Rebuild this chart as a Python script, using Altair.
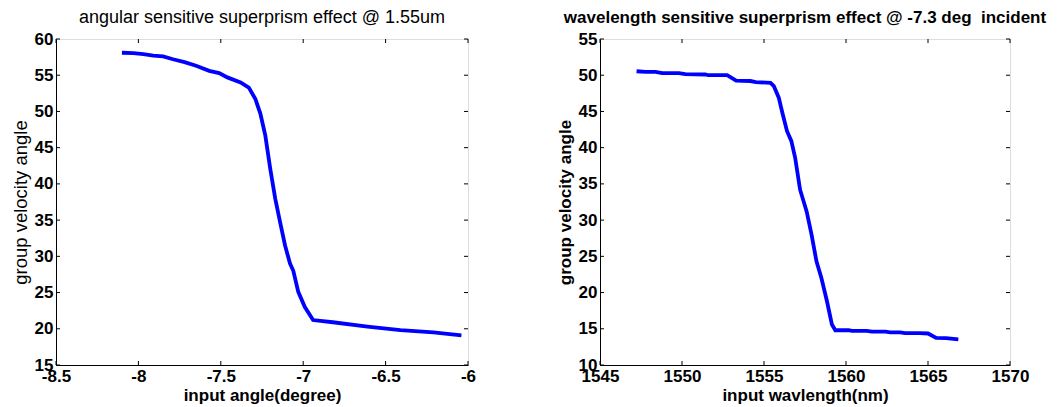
import altair as alt
import pandas as pd

# ---- data: left panel (angular sensitivity @ 1.55um)
ang_x = [-8.10, -8.03, -7.97, -7.91, -7.85, -7.79, -7.72, -7.65, -7.57, -7.51,
         -7.46, -7.38, -7.33, -7.29, -7.26, -7.23, -7.20, -7.17, -7.14, -7.11,
         -7.08, -7.06, -7.03, -6.99, -6.94, -6.82, -6.61, -6.41, -6.21, -6.04]
ang_y = [58.1, 58.05, 57.9, 57.7, 57.6, 57.2, 56.8, 56.3, 55.6, 55.3,
         54.7, 54.0, 53.3, 51.7, 49.7, 46.7, 42.1, 38.0, 34.7, 31.5,
         29.0, 28.0, 25.1, 23.0, 21.2, 20.9, 20.3, 19.8, 19.5, 19.1]

# ---- data: right panel (wavelength sensitivity @ -7.3 deg)
wl_x = [1547.23, 1547.78, 1548.39, 1548.79, 1549.81, 1550.2, 1551.43, 1551.6, 1552.75, 1553.3,
        1554.17, 1554.5, 1555.4, 1555.6, 1555.9, 1556.1, 1556.4, 1556.67, 1556.9, 1557.2,
        1557.6, 1557.9, 1558.2, 1558.5, 1558.84, 1559.14, 1559.35, 1560.16, 1560.36, 1561.27,
        1561.58, 1562.4, 1562.7, 1563.3, 1563.6, 1564.5, 1565.0, 1565.5, 1566.1, 1566.85]
wl_y = [50.55, 50.45, 50.45, 50.3, 50.3, 50.15, 50.1, 50.0, 50.0, 49.25,
        49.2, 49.05, 48.95, 48.5, 46.9, 45.0, 42.3, 40.9, 38.6, 34.2,
        31.2, 28.0, 24.3, 22.0, 18.8, 15.6, 14.8, 14.8, 14.7, 14.7,
        14.6, 14.6, 14.5, 14.5, 14.4, 14.4, 14.35, 13.75, 13.7, 13.55]

left_xticks = [-8.5, -8, -7.5, -7, -6.5, -6]
left_yticks = [15, 20, 25, 30, 35, 40, 45, 50, 55, 60]
right_xticks = [1545, 1550, 1555, 1560, 1565, 1570]
right_yticks = [10, 15, 20, 25, 30, 35, 40, 45, 50, 55]

FONT = "Liberation Sans"
TICK = 4
LABEL_EXPR = "'' + datum.value"


def panel(xs, ys, xt, yt, title, title_weight, title_size, xtitle, ytitle,
          ytitle_weight, ytitle_size, W, H):
    df = pd.DataFrame({"x": xs, "y": ys})
    xscale = alt.Scale(domain=[xt[0], xt[-1]], nice=False, zero=False)
    yscale = alt.Scale(domain=[yt[0], yt[-1]], nice=False, zero=False)
    xaxis = alt.Axis(values=xt, title=xtitle, grid=False, ticks=False,
                     labelExpr=LABEL_EXPR,
                     labelFlush=False, labelOverlap=False, labelFontWeight="bold",
                     labelFontSize=17, labelColor="black", labelPadding=3,
                     titleFontSize=17, titleFontWeight="bold", titleColor="black",
                     titlePadding=3, domainColor="black", labelFont=FONT, titleFont=FONT)
    yaxis = alt.Axis(values=yt, title=ytitle, grid=False, ticks=False,
                     labelExpr=LABEL_EXPR,
                     labelFlush=False, labelOverlap=False, labelFontWeight="bold",
                     labelFontSize=17, labelColor="black", labelPadding=3,
                     titleFontSize=ytitle_size, titleFontWeight=ytitle_weight,
                     titleColor="black", titlePadding=4, domainColor="black",
                     labelFont=FONT, titleFont=FONT)
    X = lambda f: alt.X(f, type="quantitative", scale=xscale, axis=xaxis)
    Y = lambda f: alt.Y(f, type="quantitative", scale=yscale, axis=yaxis)

    line = alt.Chart(df).mark_line(color="#0000FF", strokeWidth=3.8).encode(
        x=X("x"), y=Y("y"))

    dxt = pd.DataFrame({"x": xt})
    dyt = pd.DataFrame({"y": yt})
    xb = alt.Chart(dxt).mark_rule(color="black").encode(
        x=X("x"), y=alt.value(H), y2=alt.value(H - TICK))
    xtp = alt.Chart(dxt).mark_rule(color="black").encode(
        x=X("x"), y=alt.value(0), y2=alt.value(TICK))
    yl = alt.Chart(dyt).mark_rule(color="black").encode(
        y=Y("y"), x=alt.value(0), x2=alt.value(TICK))
    yr = alt.Chart(dyt).mark_rule(color="black").encode(
        y=Y("y"), x=alt.value(W - TICK), x2=alt.value(W))

    return alt.layer(line, xb, xtp, yl, yr).properties(
        width=W, height=H,
        title=alt.TitleParams(title, font=FONT, fontSize=title_size,
                              fontWeight=title_weight, color="black", offset=3,
                              anchor="middle"))


left = panel(ang_x, ang_y, left_xticks, left_yticks,
             "angular sensitive superprism effect @ 1.55um", "normal", 18,
             "input angle(degree)", "group velocity angle", "normal", 18.5, 412, 326)
right = panel(wl_x, wl_y, right_xticks, right_yticks,
              "wavelength sensitive superprism effect @ -7.3 deg\u00a0 incident", "bold", 17,
              "input wavlength(nm)", "group velocity angle", "bold", 17, 410, 326)

chart = alt.hconcat(left, right, spacing=78).properties(
    padding={"left": 2, "top": 0, "right": 0, "bottom": 0}
).configure_view(stroke="black", strokeWidth=1).configure(background="white")

chart.save("out.html", embed_options={"renderer": "svg", "actions": False})
